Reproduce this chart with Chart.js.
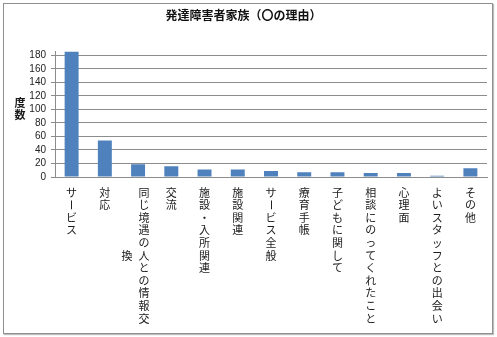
<!DOCTYPE html>
<html>
<head>
<meta charset="utf-8">
<script src="https://cdn.jsdelivr.net/npm/chart.js@4/dist/chart.umd.min.js"></script>
<style>
  html, body { margin: 0; padding: 0; background: #fff; }
  #wrap { position: absolute; left: 0; top: 0; width: 497px; height: 337px; }
  #frame { position: absolute; left: 3px; top: 3px; width: 488px; height: 329px;
           border: 1px solid #8f8f8f; box-shadow: 1px 1px 1px #bdbdbd; pointer-events: none; }
  canvas { position: absolute; left: 0; top: 0; }
</style>
</head>
<body>
<div id="wrap">
  <canvas id="c" width="497" height="337"></canvas>
  <div id="frame"></div>
</div>
<script>
const chartTitle = '発達障害者家族（〇の理由）';
const yAxisTitle = '度数';
const categories = ['サービス', '対応', '同じ境遇の人との情報交換', '交流', '施設・入所関連', '施設関連', 'サービス全般', '療育手帳', '子どもに関して', '相談にのってくれたこと', '心理面', 'よいスタッフとの出会い', 'その他'];
const counts = [186, 54, 19, 16, 11, 11, 9, 7, 7, 6, 6, 2, 13];
const yTickValues = [0, 20, 40, 60, 80, 100, 120, 140, 160, 180];

const JP = '"Noto Sans CJK JP", "Noto Sans", sans-serif';

const verticalLabels = {
  id: 'verticalLabels',
  afterDraw(chart) {
    const ctx = chart.ctx;
    const xs = chart.scales.x;
    const area = chart.chartArea;
    ctx.save();
    ctx.fillStyle = '#1a1a1a';
    ctx.font = '11px ' + JP;
    ctx.textAlign = 'center';
    ctx.textBaseline = 'middle';
    const pitch = 12.6, maxPerCol = 11, colGap = 17;
    const firstY = area.bottom + 15.5;
    categories.forEach((label, i) => {
      const cx = xs.getPixelForValue(i);
      const chars = Array.from(label);
      const cols = [];
      for (let k = 0; k < chars.length; k += maxPerCol) cols.push(chars.slice(k, k + maxPerCol));
      const n = cols.length;
      const firstLen = cols[0].length;
      cols.forEach((col, c) => {
        const x = n > 1 ? cx + (n - 1) * colGap / 2 - c * colGap - 2.5 : cx;
        const y0 = firstY + (firstLen - col.length) * pitch / 2;
        col.forEach((ch, k) => {
          const y = y0 + k * pitch;
          if (ch === 'ー') {
            ctx.save();
            ctx.translate(x, y);
            ctx.rotate(Math.PI / 2);
            ctx.fillText(ch, 0, 0);
            ctx.restore();
          } else {
            ctx.fillText(ch, x, y);
          }
        });
      });
    });
    ctx.font = 'bold 11px ' + JP;
    Array.from(yAxisTitle).forEach((ch, k) => {
      ctx.fillText(ch, 20, 103 + k * 11.5);
    });
    ctx.restore();
  }
};

new Chart(document.getElementById('c'), {
  type: 'bar',
  data: {
    labels: categories,
    datasets: [{
      data: counts,
      backgroundColor: '#4F81BD',
      borderWidth: 0,
      categoryPercentage: 1,
      barPercentage: 0.42
    }]
  },
  options: {
    responsive: false,
    animation: false,
    layout: { padding: { left: 0, right: 10, top: 0, bottom: 0 } },
    plugins: {
      legend: { display: false },
      tooltip: { enabled: false },
      title: {
        display: true,
        text: chartTitle,
        color: '#111',
        font: { family: JP, size: 12, weight: 'bold' },
        padding: { top: 8, bottom: 29 }
      }
    },
    scales: {
      x: {
        grid: { display: false },
        border: { display: true, color: '#8c8c8c', width: 1 },
        ticks: { display: false },
        afterFit(s) { s.height = 160; }
      },
      y: {
        min: 0,
        max: 186,
        afterBuildTicks(s) { s.ticks = yTickValues.map(v => ({ value: v })); },
        grid: { color: '#8c8c8c', lineWidth: 1, tickLength: 4, drawTicks: true },
        border: { display: true, color: '#8c8c8c' },
        ticks: {
          autoSkip: false,
          color: '#222',
          padding: 5,
          font: { family: '"Liberation Sans", Arial, sans-serif', size: 10 }
        },
        afterFit(s) { s.width = 55; }
      }
    }
  },
  plugins: [verticalLabels]
});
</script>
</body>
</html>
